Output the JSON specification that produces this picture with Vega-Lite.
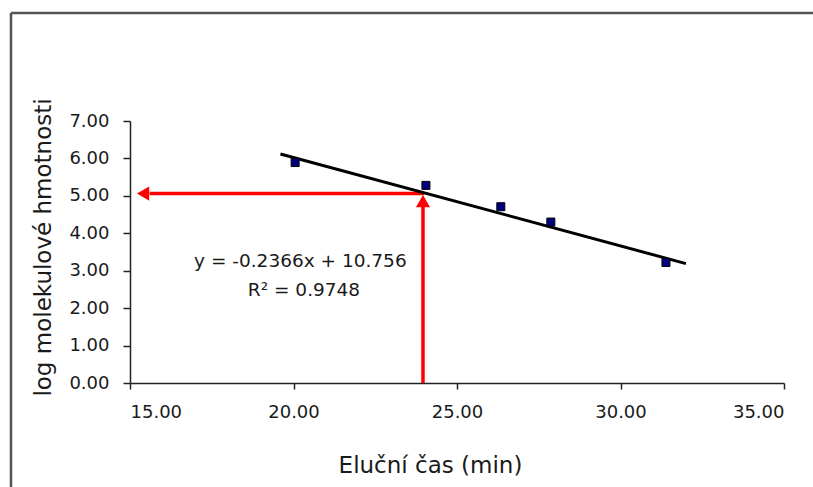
{
  "$schema": "https://vega.github.io/schema/vega-lite/v6.json",
  "width": 654,
  "height": 262,
  "autosize": "none",
  "padding": {"left": 130, "top": 121, "right": 29, "bottom": 104},
  "background": "white",
  "config": {"view": {"stroke": null}, "font": "DejaVu Sans"},
  "datasets": {
    "points": [
      {"x": 20.05, "y": 5.89},
      {"x": 24.05, "y": 5.28},
      {"x": 26.34, "y": 4.71},
      {"x": 27.87, "y": 4.30},
      {"x": 31.39, "y": 3.22}
    ],
    "trend": [
      {"x": 19.6, "y": 6.12},
      {"x": 32.0, "y": 3.19}
    ],
    "hshaft": [{"x": 15.6, "y": 5.06, "x2": 24.0, "y2": 5.06}],
    "vshaft": [{"x": 23.96, "y": 0, "x2": 23.96, "y2": 4.75}],
    "hhead": [{"x": 15.4, "y": 5.06}],
    "vhead": [{"x": 23.96, "y": 4.86}],
    "labels": [
      {"x": 20.21, "y": 3.25, "label": "y = -0.2366x + 10.756"},
      {"x": 20.32, "y": 2.49, "label": "R² = 0.9748"}
    ],
    "frame": [{"x": 11.36, "y": 9.885, "x2": 36.5, "y2": -5}]
  },
  "encoding": {
    "x": {
      "field": "x", "type": "quantitative",
      "scale": {"domain": [15, 35], "nice": false, "zero": false},
      "axis": {
        "values": [15, 20, 25, 30, 35], "format": ".2f", "title": "Eluční čas (min)",
        "grid": false, "domainColor": "#222", "domainWidth": 1.5, "tickColor": "#222", "tickWidth": 1.5, "tickSize": 6,
        "labelFontSize": 18, "labelColor": "#1a1a1a", "labelPadding": 14, "labelFont": "DejaVu Sans",
        "titleFontSize": 23, "titleFontWeight": "normal", "titleColor": "#1a1a1a", "titleFont": "DejaVu Sans",
        "titleX": 300, "titleY": 89, "titleBaseline": "alphabetic", "titleAlign": "center"
      }
    },
    "y": {
      "field": "y", "type": "quantitative",
      "scale": {"domain": [0, 7], "nice": false, "zero": false},
      "axis": {
        "values": [0, 1, 2, 3, 4, 5, 6, 7], "format": ".2f", "title": "log molekulové hmotnosti",
        "grid": false, "domainColor": "#222", "domainWidth": 1.5, "tickColor": "#222", "tickWidth": 1.5, "tickSize": 7,
        "labelFontSize": 18, "labelColor": "#1a1a1a", "labelPadding": 14, "labelFont": "DejaVu Sans",
        "titleFontSize": 23, "titleFontWeight": "normal", "titleColor": "#1a1a1a", "titleFont": "DejaVu Sans",
        "titleAngle": -90, "titleX": -80, "titleY": 126, "titleBaseline": "alphabetic", "titleAlign": "center"
      }
    }
  },
  "layer": [
    {
      "data": {"name": "frame"},
      "mark": {"type": "rule", "color": "#555", "strokeWidth": 2.5},
      "encoding": {"y": {"field": "y2", "type": "quantitative"}, "y2": {"field": "y"}}
    },
    {
      "data": {"name": "frame"},
      "mark": {"type": "rule", "color": "#555", "strokeWidth": 2.5},
      "encoding": {"x2": {"field": "x2"}}
    },
    {
      "data": {"name": "hshaft"},
      "mark": {"type": "rule", "color": "#ff0000", "strokeWidth": 3.5},
      "encoding": {"x2": {"field": "x2"}}
    },
    {
      "data": {"name": "vshaft"},
      "mark": {"type": "rule", "color": "#ff0000", "strokeWidth": 3.5},
      "encoding": {"y2": {"field": "y2"}}
    },
    {
      "data": {"name": "hhead"},
      "mark": {"type": "point", "shape": "triangle-left", "filled": true, "color": "#ff0000", "opacity": 1, "size": 200}
    },
    {
      "data": {"name": "vhead"},
      "mark": {"type": "point", "shape": "triangle-up", "filled": true, "color": "#ff0000", "opacity": 1, "size": 200}
    },
    {
      "data": {"name": "trend"},
      "mark": {"type": "line", "color": "#000000", "strokeWidth": 3}
    },
    {
      "data": {"name": "points"},
      "mark": {"type": "point", "shape": "square", "filled": true, "fill": "#000080", "stroke": "#000000", "strokeWidth": 1, "opacity": 1, "size": 64}
    },
    {
      "data": {"name": "labels"},
      "mark": {"type": "text", "fontSize": 18.5, "color": "#1a1a1a", "align": "center", "baseline": "middle", "font": "DejaVu Sans"},
      "encoding": {"text": {"field": "label"}}
    }
  ]
}
